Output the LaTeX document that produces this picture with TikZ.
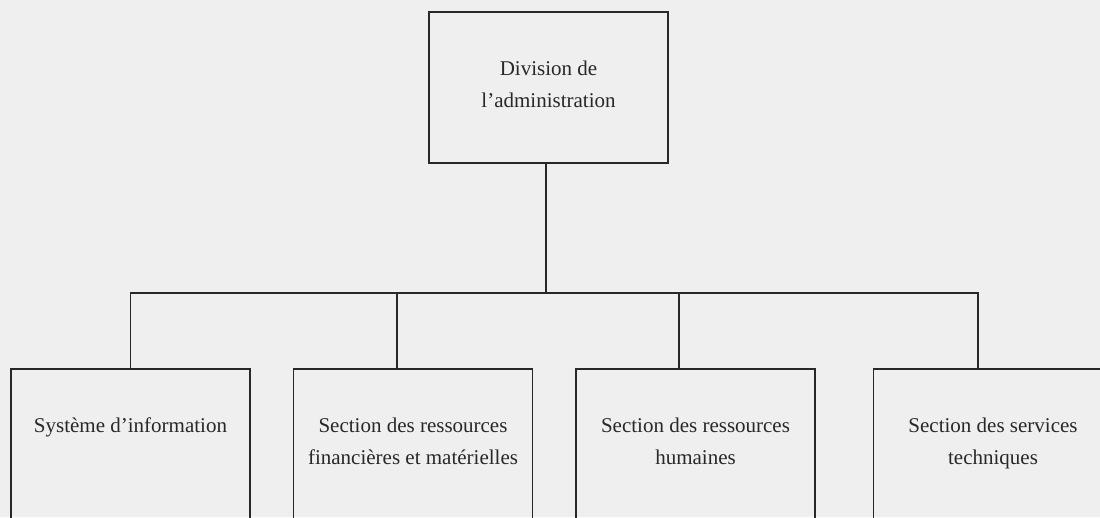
\documentclass[tikz,border=0pt]{standalone}
\usepackage{fontspec}
\setmainfont{Liberation Serif}
\definecolor{paper}{RGB}{239,239,239}
\definecolor{linegray}{RGB}{40,40,40}
\definecolor{textgray}{RGB}{40,40,40}
\begin{document}
\begin{tikzpicture}[x=1pt,y=-1pt,
  unitbox/.style={draw=linegray, line width=1.8pt, minimum width=239pt, inner sep=0pt},
  lbl/.style={anchor=base, align=center, text=textgray, inner sep=0pt,
              font=\fontsize{21}{32}\selectfont},
  link/.style={draw=linegray, line width=1.8pt}]
\useasboundingbox (0,0) rectangle (1100,517);
\fill[paper] (0,0) rectangle (1100,517);
\clip (0,0) rectangle (1100,517);

% head of the organisation
\node[unitbox, minimum height=151pt] (top) at (548.5,87.5) {};
% base anchor of a two-line label sits on its last line
\node[lbl] (ttop) at (548.5,107) {Division de\\l’administration};

% the four sections (boxes run past the lower edge)
\node[unitbox, minimum height=200pt, anchor=north] (b1) at (130.5,368) {};
\node[unitbox, minimum height=200pt, anchor=north] (b2) at (413,368) {};
\node[unitbox, minimum height=200pt, anchor=north] (b3) at (695.5,368) {};
\node[unitbox, minimum height=200pt, anchor=north] (b4) at (993,368) {};

\node[lbl] (t1) at (130.5,432) {Système d’information};
\node[lbl] (t2) at (413,464) {Section des ressources\\financières et matérielles};
\node[lbl] (t3) at (695.5,464) {Section des ressources\\humaines};
\node[lbl] (t4) at (993,464) {Section des services\\techniques};

% connectors: trunk, bus and drops
\coordinate (bus) at (546,293);
\draw[link] ([xshift=-2.5pt]top.south) -- (bus);
\draw[link] (bus) -| (b1.north);
\draw[link] (bus) -| ([xshift=104pt]b2.north west);
\draw[link] (bus) -| ([xshift=104pt]b3.north west);
\draw[link] (bus) -| ([xshift=105pt]b4.north west);
\end{tikzpicture}
\end{document}
